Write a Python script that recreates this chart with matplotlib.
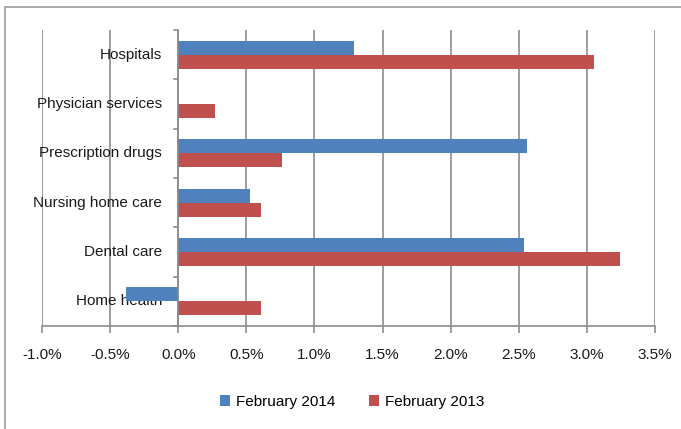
import matplotlib
matplotlib.use("Agg")
import matplotlib.pyplot as plt
import numpy as np

categories = ["Hospitals", "Physician services", "Prescription drugs",
              "Nursing home care", "Dental care", "Home health"]
feb_2014 = [1.29, 0.0, 2.56, 0.53, 2.54, -0.38]
feb_2013 = [3.05, 0.27, 0.76, 0.61, 3.24, 0.61]
xticks = [-1.0, -0.5, 0.0, 0.5, 1.0, 1.5, 2.0, 2.5, 3.0, 3.5]

fam = ["Liberation Sans", "DejaVu Sans"]
plt.rcParams["font.family"] = fam

fig = plt.figure(figsize=(6.81, 4.29), dpi=100)
ax = fig.add_axes([42/681, 1-326/429, (655-42)/681, (326-30)/429])

# figure border (top and left visible)
fig.add_artist(plt.Line2D([5/681, 1.0], [1-7/429, 1-7/429], color="#a6a6a6", lw=1.3, transform=fig.transFigure))
fig.add_artist(plt.Line2D([5/681, 5/681], [0, 1-7/429], color="#a6a6a6", lw=1.3, transform=fig.transFigure))

n = len(categories)
y = np.arange(n)
w = 0.286
blue = "#4F81BD"
red = "#C0504D"
ax.barh(y - w/2, feb_2014, height=w, color=blue, label="February 2014", zorder=3)
ax.barh(y + w/2, feb_2013, height=w, color=red, label="February 2013", zorder=3)

ax.set_ylim(n - 0.5, -0.5)
ax.set_xlim(-1.0, 3.5)
ax.set_xticks(xticks)
ax.set_xticklabels([f"{v:.1f}%" for v in xticks], fontsize=11, color="#1a1a1a")
ax.xaxis.grid(True, color="#8c8c8c", lw=1.2, zorder=0)
ax.tick_params(axis="x", length=5, color="#8c8c8c", width=1.2, pad=11)

for s in ["top", "right", "left"]:
    ax.spines[s].set_visible(False)
ax.spines["bottom"].set_color("#8c8c8c")
ax.spines["bottom"].set_linewidth(1.2)

# category axis at x = 0
ax.set_yticks([])
ax.axvline(0, color="#8c8c8c", lw=1.2, zorder=4)
for b in np.arange(-0.5, n, 1.0):
    ax.plot([-0.03, 0], [b, b], color="#8c8c8c", lw=1.2, zorder=4, clip_on=False)
for i, c in enumerate(categories):
    ax.text(-0.12, i, c, ha="right", va="center", fontsize=11, color="#1a1a1a", zorder=2)

leg = fig.legend(loc="center", bbox_to_anchor=(352/681, 1-402/429), ncol=2, frameon=False,
                 fontsize=11, handlelength=0.65, handleheight=0.75, handletextpad=0.4,
                 columnspacing=2.2)

fig.savefig("out.png", dpi=100)
